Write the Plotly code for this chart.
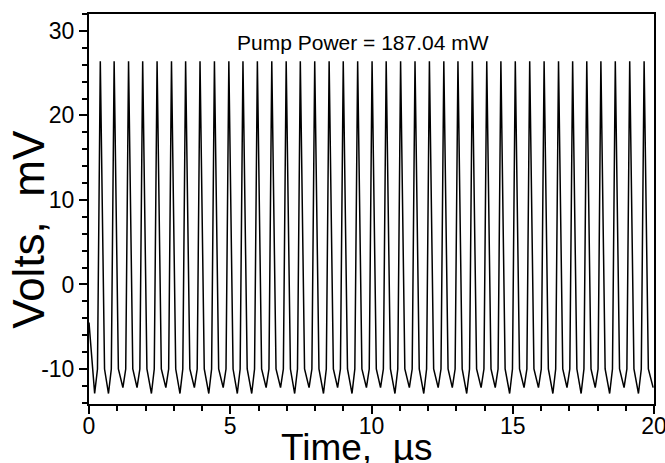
import plotly.graph_objects as go

# Values (time in µs, signal in mV)
start_t = 0.0
start_v = -4.5

peak_t = [0.40, 0.89, 1.40, 1.90, 2.41, 2.92, 3.42, 3.93, 4.44, 4.95,
          5.45, 5.96, 6.47, 6.98, 7.48, 7.99, 8.50, 9.00, 9.51, 10.02,
          10.52, 11.03, 11.54, 12.05, 12.56, 13.06, 13.57, 14.08, 14.58, 15.09,
          15.60, 16.11, 16.62, 17.12, 17.62, 18.12, 18.63, 19.14, 19.65]
peak_v = [26.4] * 39

# foot of each spike, where the steep flanks meet the trough (about -10 mV)
rise_t = [0.30, 0.79, 1.30, 1.80, 2.31, 2.82, 3.32, 3.83, 4.34, 4.85,
          5.35, 5.86, 6.37, 6.88, 7.38, 7.89, 8.40, 8.90, 9.41, 9.92,
          10.42, 10.93, 11.44, 11.95, 12.46, 12.96, 13.47, 13.98, 14.48, 14.99,
          15.50, 16.01, 16.52, 17.02, 17.52, 18.02, 18.53, 19.04, 19.55]
fall_t = [0.55, 1.04, 1.55, 2.05, 2.56, 3.07, 3.57, 4.08, 4.59, 5.10,
          5.60, 6.11, 6.62, 7.13, 7.63, 8.14, 8.65, 9.15, 9.66, 10.17,
          10.67, 11.18, 11.69, 12.20, 12.71, 13.21, 13.72, 14.23, 14.73, 15.24,
          15.75, 16.26, 16.77, 17.27, 17.77, 18.27, 18.78, 19.29, 19.80]
foot_v = [-10.0] * 39

trough_t = [0.20, 0.69, 1.20, 1.70, 2.21, 2.72, 3.22, 3.73, 4.24, 4.75,
            5.25, 5.76, 6.27, 6.78, 7.28, 7.79, 8.30, 8.80, 9.31, 9.82,
            10.32, 10.83, 11.34, 11.85, 12.36, 12.86, 13.37, 13.88, 14.38, 14.89,
            15.40, 15.91, 16.42, 16.92, 17.42, 17.92, 18.43, 18.94, 19.45, 19.97]
trough_v = [-12.9, -12.9, -12.2, -12.2, -12.9, -12.2, -12.9, -12.2, -12.9, -12.2,
            -12.9, -12.9, -12.2, -12.2, -12.9, -12.2, -12.9, -12.2, -12.9, -12.2,
            -12.2, -12.9, -12.2, -12.9, -12.2, -12.2, -12.9, -12.2, -12.2, -12.9,
            -12.2, -12.2, -12.9, -12.2, -12.9, -12.2, -12.9, -12.2, -12.9, -12.2]

y_ticks = [-10, 0, 10, 20, 30]
y_ticktext = ["-10", "0", "10", "20", "30"]
x_ticks = [0, 5, 10, 15, 20]

label = "Pump Power = 187.04 mW"

# stitch the read points into one trace, in time order
t = [start_t]
v = [start_v]
for i in range(len(peak_t)):
    t += [trough_t[i], rise_t[i], peak_t[i], fall_t[i]]
    v += [trough_v[i], foot_v[i], peak_v[i], foot_v[i]]
t.append(trough_t[-1])
v.append(trough_v[-1])

font = "Arial, Liberation Sans, sans-serif"

fig = go.Figure()
fig.add_trace(go.Scatter(x=t, y=v, mode="lines",
                         line=dict(color="black", width=1.5), showlegend=False))

axis_common = dict(showgrid=False, zeroline=False, showline=True, linecolor="black",
                   linewidth=2, mirror=True, ticks="outside", ticklen=8, tickwidth=1.5,
                   tickcolor="black", automargin=False, ticklabeloverflow="allow",
                   tickfont=dict(family=font, size=23, color="black"))

fig.update_xaxes(range=[0, 20], tickmode="array", tickvals=x_ticks,
                 ticklabelstandoff=-8,
                 minor=dict(tickmode="linear", tick0=0, dtick=1, ticks="outside",
                            ticklen=5, tickwidth=1.5, tickcolor="black"),
                 **axis_common)
fig.update_yaxes(range=[-14.14, 32], tickmode="array", tickvals=y_ticks,
                 ticktext=y_ticktext,
                 minor=dict(tickmode="linear", tick0=0, dtick=2, ticks="outside",
                            ticklen=5, tickwidth=1.5, tickcolor="black"),
                 **axis_common)

fig.add_annotation(text=label, xref="paper", yref="paper", x=0.485, y=0.928,
                   xanchor="center", yanchor="middle", showarrow=False,
                   font=dict(family=font, size=21, color="black"))
fig.add_annotation(text="Time,  µs", xref="paper", yref="paper", x=0.474, y=-0.054,
                   xanchor="center", yanchor="top", showarrow=False,
                   font=dict(family=font, size=37, color="black"))
fig.add_annotation(text="Volts,  mV", xref="paper", yref="paper", x=-0.106, y=0.447,
                   xanchor="center", yanchor="middle", textangle=-90, showarrow=False,
                   font=dict(family=font, size=44, color="black"))

fig.update_layout(width=665, height=463, margin=dict(l=89, r=11, t=14, b=59),
                  paper_bgcolor="white", plot_bgcolor="white")

# the page body has a default margin; drop it so the figure sits at 0,0
fig.write_html("out.html", config={"displayModeBar": False},
               post_script="document.body.style.margin='0';")
